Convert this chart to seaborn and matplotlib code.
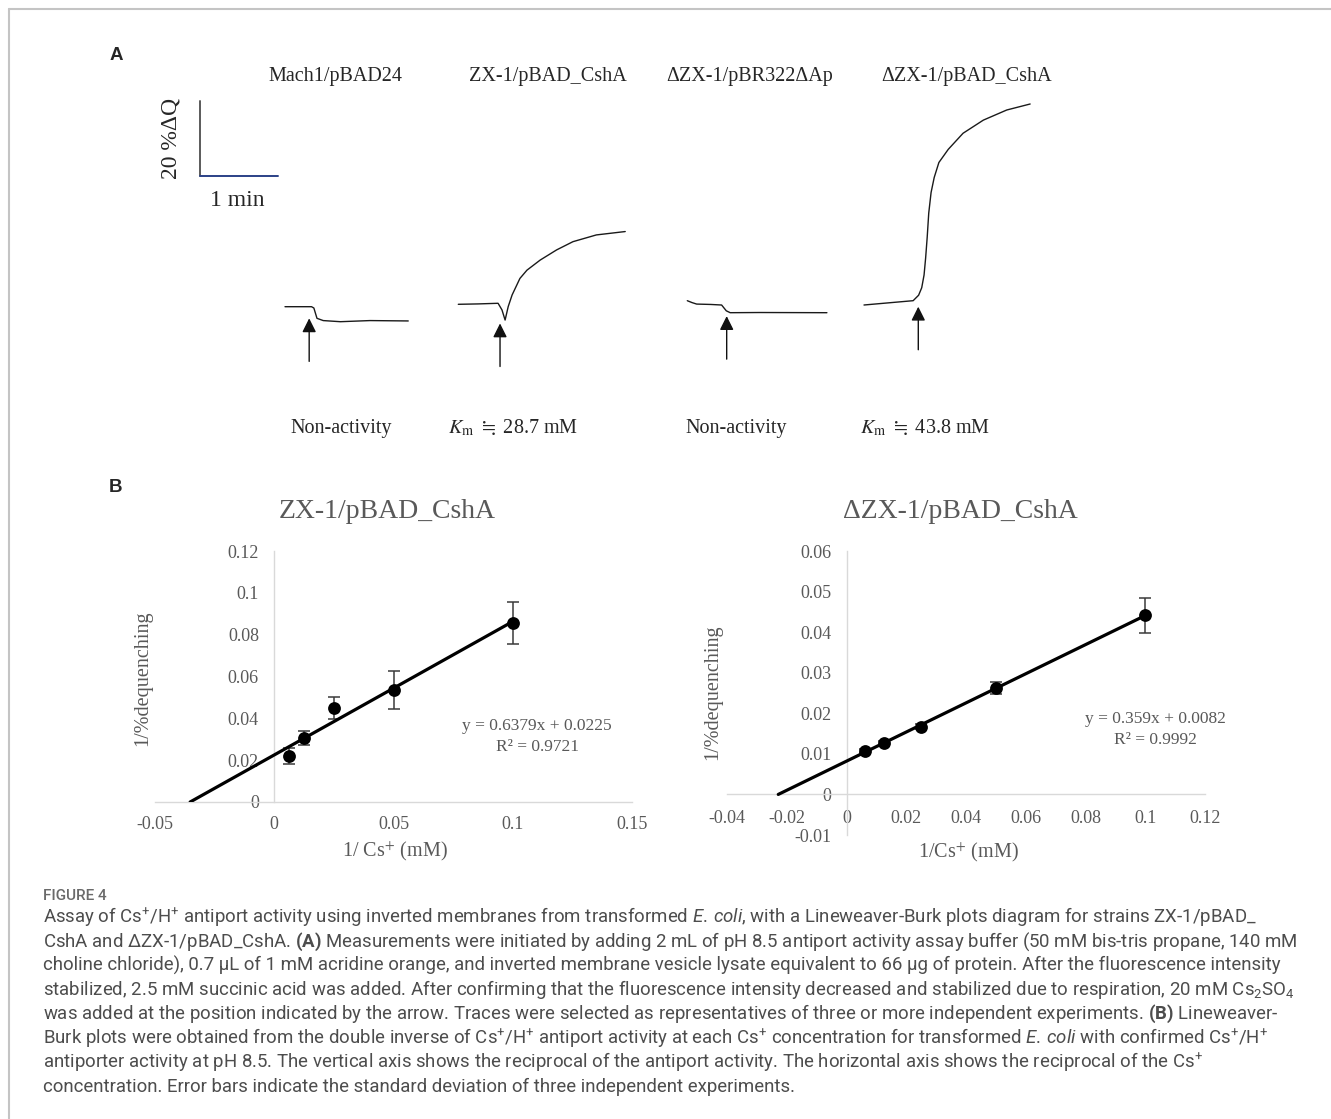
import numpy as np
import matplotlib
matplotlib.use("Agg")
import matplotlib.pyplot as plt
from matplotlib.lines import Line2D
import seaborn as sns

sns.set_style("white")
plt.rcParams["font.family"] = ["Liberation Serif", "DejaVu Serif", "DejaVu Sans"]
plt.rcParams["mathtext.fontset"] = "custom"
plt.rcParams["mathtext.rm"] = "Roboto"
plt.rcParams["mathtext.it"] = "Roboto:italic"
plt.rcParams["mathtext.bf"] = "Roboto:bold"

W, H = 1331, 1119          # output size in px (dpi 100)
PX_MIN, PX_PCT = 78, 3.75  # trace scale: px per minute, px per %dQ

# ---- panel A: fluorescence traces, time (min) and change (%dQ, up = dequenching)
strains_a = ["Mach1/pBAD24", "ZX-1/pBAD_CshA", "ΔZX-1/pBR322ΔAp", "ΔZX-1/pBAD_CshA"]
activity_a = ["Non-activity", r"$K_\mathrm{m}$ $\fallingdotseq$ 28.7 mM",
              "Non-activity", r"$K_\mathrm{m}$ $\fallingdotseq$ 43.8 mM"]

t_mach1 = [0, 0.34, 0.37, 0.41, 0.49, 0.71, 1.09, 1.58]
q_mach1 = [0, 0, -0.35, -3.1, -3.7, -4.0, -3.7, -3.8]
t_zx1 = [0, 0.25, 0.51, 0.56, 0.6, 0.64, 0.69, 0.79, 0.88, 1.05, 1.26, 1.47, 1.77, 2.14]
q_zx1 = [0, 0.1, 0.27, -1.5, -4.2, -0.6, 2.5, 6.9, 9.1, 11.8, 14.5, 16.7, 18.5, 19.4]
t_dzx1_ctrl = [0, 0.06, 0.12, 0.3, 0.44, 0.5, 0.55, 0.93, 1.79]
q_dzx1_ctrl = [0, -0.5, -0.9, -1.0, -1.15, -2.7, -3.2, -3.15, -3.2]
t_dzx1 = [0, 0.63, 0.7, 0.74, 0.77, 0.79, 0.81, 0.83, 0.86, 0.9, 0.96, 1.08, 1.27, 1.53, 1.83, 2.13]
q_dzx1 = [0, 1.15, 2.6, 4.6, 8.0, 12.5, 18.0, 24.5, 30.0, 34.0, 38.0, 41.5, 45.8, 49.3, 52, 53.6]
traces = [(t_mach1, q_mach1), (t_zx1, q_zx1), (t_dzx1_ctrl, q_dzx1_ctrl), (t_dzx1, q_dzx1)]

cs_add_t = [0.31, 0.535, 0.505, 0.696]   # Cs2SO4 addition (arrow)
cs_add_q = [-3.1, -5.1, -4.1, -0.45]

# ---- panel B: Lineweaver-Burk data
inv_cs = [0.00625, 0.0125, 0.025, 0.05, 0.1]          # 1/[Cs+] (1/mM)
deq_zx1 = [0.022, 0.0307, 0.045, 0.0535, 0.0856]     # 1/%dequenching
sd_zx1 = [0.0039, 0.0034, 0.0053, 0.0089, 0.0102]
deq_dzx1 = [0.0107, 0.0126, 0.0167, 0.0262, 0.0442]
sd_dzx1 = [0.0004, 0.0005, 0.0006, 0.0015, 0.0043]
fit_zx1 = (0.6379, 0.0225, 0.9721)    # slope, intercept, R2
fit_dzx1 = (0.359, 0.0082, 0.9992)

fig = plt.figure(figsize=(W / 100, H / 100), dpi=100)


def ptext(x, y, s, **kw):
    kw.setdefault("ha", "center")
    kw.setdefault("va", "center")
    return fig.text(x / W, 1 - y / H, s, **kw)


def rect(x0, y0, x1, y1):
    return [x0 / W, 1 - y1 / H, (x1 - x0) / W, (y1 - y0) / H]


# frame
fig.add_artist(Line2D([9 / W, 1], [1 - 9 / H] * 2, color="#c4c4c4", lw=1.5))
fig.add_artist(Line2D([9 / W] * 2, [0, 1 - 9 / H], color="#c4c4c4", lw=1.5))

# ================= panel A =================
top_h = 400
axA = fig.add_axes(rect(0, 0, W, top_h))
axA.set_xlim(0, W / PX_MIN)
axA.set_ylim(-top_h / PX_PCT, 0)
axA.axis("off")

trace_origin = [(285, 306.7), (458.3, 304.3), (687.3, 300.7), (864, 305)]
for (t, q), (x0, y0), ta, qa in zip(traces, trace_origin, cs_add_t, cs_add_q):
    ox, oy = x0 / PX_MIN, -y0 / PX_PCT
    sns.lineplot(x=np.array(t) + ox, y=np.array(q) + oy, ax=axA, color="#1a1a1a",
                 lw=1.0, sort=False, estimator=None)
    axA.annotate("", xy=(ta + ox, qa + oy), xytext=(0, -31), textcoords="offset points",
                 arrowprops=dict(arrowstyle="-|>,head_length=0.6,head_width=0.3",
                                 mutation_scale=14, color="#111111", lw=1.0,
                                 shrinkA=0, shrinkB=0))

# scale bar: 20 %dQ and 1 min
sb_x, sb_y = 200 / PX_MIN, -176 / PX_PCT
axA.plot([sb_x, sb_x], [sb_y, sb_y + 20], color="#5a5a5a", lw=1.4)
axA.plot([sb_x, sb_x + 1], [sb_y, sb_y], color="#2b4187", lw=1.4)
ptext(171, 138, "20 %ΔQ", rotation=90, fontsize=17)
ptext(237, 201, "1 min", fontsize=17)

for x, s in zip([335, 548, 750, 967], strains_a):
    ptext(x, 77, s, fontsize=14.5)
for x, s in zip([341, 513, 736, 925], activity_a):
    ptext(x, 428, s, fontsize=14.5, math_fontfamily="stix")

ptext(116, 55, "A", fontsize=13.5, fontweight="bold", family="Liberation Sans")
ptext(116, 488, "B", fontsize=13.5, fontweight="bold", family="Liberation Sans")

# ================= panel B =================
GREY = "#595959"


def lb_plot(box, y, sd, fit, xlim, ylim, xticks, yticks, xpad):
    ax = fig.add_axes(rect(*box))
    slope, icpt, r2 = fit
    fx = np.array([-icpt / slope, max(inv_cs)])
    ax.errorbar(inv_cs, y, yerr=sd, fmt="none", ecolor="#3a3a3a", elinewidth=1.1,
                capsize=4, capthick=1.1, zorder=2)
    sns.lineplot(x=fx, y=slope * fx + icpt, ax=ax, color="black", lw=2.3, zorder=3)
    sns.scatterplot(x=inv_cs, y=y, ax=ax, color="black", s=85, edgecolor="black",
                    linewidth=0, zorder=4)
    ax.set_xlim(*xlim)
    ax.set_ylim(*ylim)
    ax.set_xticks(xticks, [f"{v:g}" for v in xticks])
    ax.set_yticks(yticks, [f"{v:g}" for v in yticks])
    for side in ["top", "right"]:
        ax.spines[side].set_visible(False)
    for side in ["left", "bottom"]:
        ax.spines[side].set_position(("data", 0))
        ax.spines[side].set_color("#d9d9d9")
        ax.spines[side].set_linewidth(1.0)
    ax.tick_params(axis="both", length=0, labelsize=13, labelcolor=GREY)
    ax.tick_params(axis="y", pad=11)
    ax.tick_params(axis="x", pad=xpad)
    ax.set_facecolor("none")
    ax.grid(False)
    return ax


lb_plot((155, 551, 632, 802), deq_zx1, sd_zx1, fit_zx1, (-0.05, 0.15), (0, 0.12),
        [-0.05, 0, 0.05, 0.1, 0.15], [0, 0.02, 0.04, 0.06, 0.08, 0.1, 0.12], 10)
lb_plot((727, 551, 1205, 835), deq_dzx1, sd_dzx1, fit_dzx1, (-0.04, 0.12), (-0.01, 0.06),
        [-0.04, -0.02, 0, 0.02, 0.04, 0.06, 0.08, 0.1, 0.12],
        [-0.01, 0, 0.01, 0.02, 0.03, 0.04, 0.05, 0.06], 11)

ptext(387, 512, "ZX-1/pBAD_CshA", fontsize=20, color=GREY)
ptext(960, 512, "ΔZX-1/pBAD_CshA", fontsize=20, color=GREY)
ptext(143, 678, "1/%dequenching", rotation=90, fontsize=14.5, color=GREY)
ptext(713, 692, "1/%dequenching", rotation=90, fontsize=14.5, color=GREY)
ptext(395, 851, r"1/ Cs$^{+}$ (mM)", fontsize=14.5, color=GREY, math_fontfamily="stix")
ptext(968, 852, r"1/Cs$^{+}$ (mM)", fontsize=14.5, color=GREY, math_fontfamily="stix")

for (x, y), fit in zip([(537, 726), (1155, 719)], [fit_zx1, fit_dzx1]):
    ptext(x, y, f"y = {fit[0]:g}x + {fit[1]:g}", fontsize=12.5, color=GREY)
    ptext(x, y + 21, f"R² = {fit[2]:g}", fontsize=12.5, color=GREY)

# ================= caption =================
CAP = "#4d4d4d"
ptext(43, 896, "FIGURE 4", ha="left", fontsize=11, color="#6a6a6a", family="Roboto",
      fontweight="medium")
caption = [
    r"Assay of Cs$^{+}$/H$^{+}$ antiport activity using inverted membranes from transformed $\mathit{E.}\,\mathit{coli}$, with a Lineweaver-Burk plots diagram for strains ZX-1/pBAD_",
    r"CshA and ΔZX-1/pBAD_CshA. $\mathbf{(A)}$ Measurements were initiated by adding 2 mL of pH 8.5 antiport activity assay buffer (50 mM bis-tris propane, 140 mM",
    r"choline chloride), 0.7 µL of 1 mM acridine orange, and inverted membrane vesicle lysate equivalent to 66 µg of protein. After the fluorescence intensity",
    r"stabilized, 2.5 mM succinic acid was added. After confirming that the fluorescence intensity decreased and stabilized due to respiration, 20 mM Cs$_{2}$SO$_{4}$",
    r"was added at the position indicated by the arrow. Traces were selected as representatives of three or more independent experiments. $\mathbf{(B)}$ Lineweaver-",
    r"Burk plots were obtained from the double inverse of Cs$^{+}$/H$^{+}$ antiport activity at each Cs$^{+}$ concentration for transformed $\mathit{E.}\,\mathit{coli}$ with confirmed Cs$^{+}$/H$^{+}$",
    r"antiporter activity at pH 8.5. The vertical axis shows the reciprocal of the antiport activity. The horizontal axis shows the reciprocal of the Cs$^{+}$",
    "concentration. Error bars indicate the standard deviation of three independent experiments.",
]
for i, line in enumerate(caption):
    ptext(43, 917 + i * 24.3, line, ha="left", fontsize=13.4, color=CAP, family="Roboto")

fig.savefig("out.png", dpi=100)
